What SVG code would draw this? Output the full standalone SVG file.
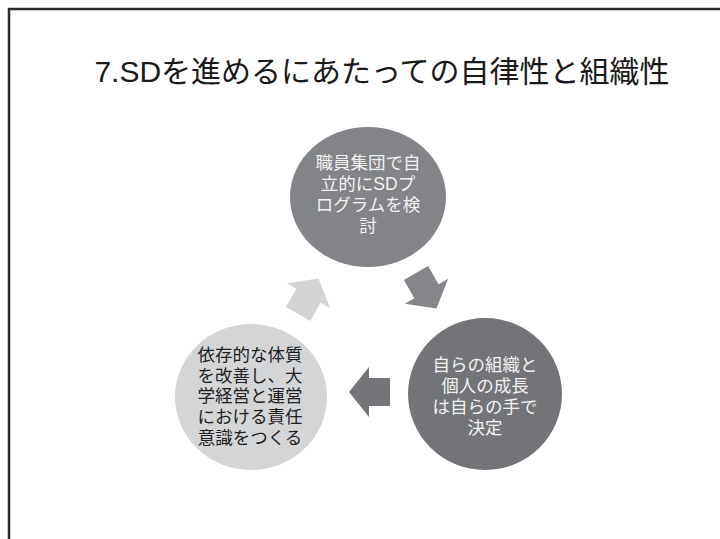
<svg xmlns="http://www.w3.org/2000/svg" xmlns:xlink="http://www.w3.org/1999/xlink" width="720" height="539" viewBox="0 0 720 539">
<style>
.t{font-family:"Liberation Sans","Noto Sans CJK JP",sans-serif;text-anchor:middle}
.w{fill:#f2f2f2;font-size:17.5px}
.k{fill:#1e1e1e;font-size:17.5px}
</style>
<defs>
<path id="arr" d="M0,-14 H21 V-25 L41,0 L21,25 V14 H0 Z"/>
</defs>
<rect width="720" height="539" fill="#ffffff"/>
<path d="M9,539 V9 H720" fill="none" stroke="#2b2b2b" stroke-width="2.5"/>
<text class="t" x="382" y="82" font-size="30" fill="#1a1a1a">7.SDを進めるにあたっての自律性と組織性</text>
<g id="connectors">
<use xlink:href="#arr" transform="translate(416,273) rotate(60)" fill="#858689"/>
<use xlink:href="#arr" transform="translate(390,392) rotate(180)" fill="#737477"/>
<use xlink:href="#arr" transform="translate(298,314) rotate(-60)" fill="#d3d4d6"/>
</g>
<g id="node-top">
<ellipse cx="368" cy="197" rx="78" ry="70" fill="#838487"/>
<text class="t w" x="368" y="169">職員集団で自</text>
<text class="t w" x="368" y="190">立的にSDプ</text>
<text class="t w" x="368" y="211">ログラムを検</text>
<text class="t w" x="368" y="232">討</text>
</g>
<g id="node-right">
<ellipse cx="485" cy="394" rx="77" ry="76" fill="#737477"/>
<text class="t w" x="485" y="371">自らの組織と</text>
<text class="t w" x="485" y="392">個人の成長</text>
<text class="t w" x="485" y="413">は自らの手で</text>
<text class="t w" x="485" y="434">決定</text>
</g>
<g id="node-left">
<ellipse cx="251" cy="397" rx="76" ry="73" fill="#d4d5d7"/>
<text class="t k" x="250" y="361">依存的な体質</text>
<text class="t k" x="250" y="382">を改善し、大</text>
<text class="t k" x="250" y="402">学経営と運営</text>
<text class="t k" x="250" y="423">における責任</text>
<text class="t k" x="250" y="444">意識をつくる</text>
</g>
</svg>
